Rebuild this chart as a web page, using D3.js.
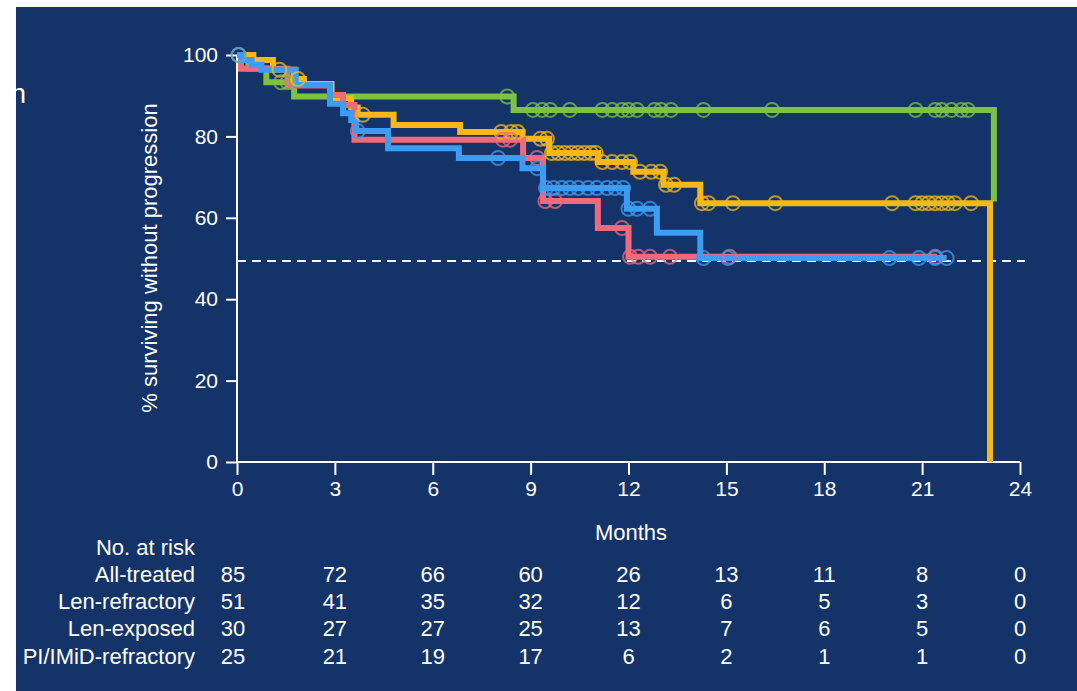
<!DOCTYPE html>
<html>
<head>
<meta charset="utf-8">
<script src="https://cdn.jsdelivr.net/npm/d3@7"></script>
<style>
  html, body { margin: 0; padding: 0; background: #ffffff; }
  svg { display: block; }
  text { font-family: "Liberation Sans", Arial, sans-serif; fill: #ffffff; }
</style>
</head>
<body>
<svg id="chart" width="1077" height="691"></svg>
<script>
// tick values and risk table
const months = [0, 3, 6, 9, 12, 15, 18, 21, 24];
const yTicks = [0, 20, 40, 60, 80, 100];
const riskGroups = ["All-treated", "Len-refractory", "Len-exposed", "PI/IMiD-refractory"];
const riskAllTreated = [85, 72, 66, 60, 26, 13, 11, 8, 0];
const riskLenRefractory = [51, 41, 35, 32, 12, 6, 5, 3, 0];
const riskLenExposed = [30, 27, 27, 25, 13, 7, 6, 5, 0];
const riskPiImid = [25, 21, 19, 17, 6, 2, 1, 1, 0];
const medianLevel = 49.4;

// KM steps: [month, % progression-free]
const stepsLenExposed = [[0, 100], [0.35, 96.7], [0.9, 93.3], [1.75, 89.8], [8.48, 86.5], [23.2, 64]];
const endLenExposed = 23.2;
const censLenExposed = [1.35, 1.55, 8.28, 9.07, 9.35, 9.6, 10.2, 11.2, 11.5, 11.8, 12.0, 12.26, 12.8, 13.0, 13.3,
  14.3, 16.4, 20.8, 21.4, 21.6, 21.9, 22.2, 22.4];

const stepsAllTreated = [[0, 100], [0.5, 98.8], [1.1, 96.4], [1.75, 94.1], [2.05, 92.9], [2.9, 89.4], [3.5, 87.1],
  [3.7, 85.3], [4.8, 82.8], [6.84, 81.1], [8.75, 79.4], [9.57, 75.9], [11.07, 73.7], [12.15, 71.3], [13.07, 68.1],
  [14.2, 63.6], [23.08, 0]];
const endAllTreated = 23.08;
const censAllTreated = [0.05, 1.3, 1.87, 3.86, 8.1, 8.4, 8.6, 9.3, 9.5, 9.65, 9.85, 10.05, 10.25, 10.45, 10.65, 10.85,
  11.0, 11.2, 11.5, 11.8, 12.05, 12.35, 12.7, 12.97, 13.15, 13.4, 14.25, 14.45, 15.2, 16.5, 20.08, 20.8, 21.0, 21.2,
  21.4, 21.6, 21.8, 22.0, 22.5];

const stepsLenRefractory = [[0, 100], [0.12, 96.6], [1.55, 92.5], [2.85, 90.2], [3.25, 87.7], [3.6, 79.2], [8.77, 74.7],
  [9.38, 64.1], [11.06, 57.5], [12.0, 50.4]];
const endLenRefractory = 21.45;
const censLenRefractory = [8.15, 8.37, 9.2, 9.45, 9.75, 11.8, 12.05, 12.3, 12.66, 13.27, 15.1, 21.4];

const stepsPiImid = [[0, 100], [0.15, 98.8], [0.45, 97.6], [0.75, 96.4], [1.8, 92.6], [2.85, 88.0], [3.25, 85.7],
  [3.5, 84.0], [3.65, 81.3], [4.63, 77.1], [6.8, 74.7], [8.75, 72.2], [9.38, 67.3], [11.95, 62.2], [12.87, 56.3],
  [14.2, 50.1]];
const endPiImid = 21.75;
const censPiImid = [0.05, 3.7, 8.0, 9.2, 9.47, 9.7, 9.96, 10.2, 10.46, 10.76, 11.03, 11.34, 11.59, 11.84, 12.0, 12.26,
  12.66, 14.3, 15.05, 20.0, 20.9, 21.4, 21.75];

const svg = d3.select("#chart");
const x = d3.scaleLinear().domain([0, 24]).range([237, 1020]);
const y = d3.scaleLinear().domain([0, 100]).range([462, 55]);

// navy slide background, white strip on top and left
svg.append("rect").attr("x", 16).attr("y", 7).attr("width", 1061).attr("height", 684).attr("fill", "#133369");

// cut-off title letter
svg.append("text").attr("x", 26).attr("y", 103).attr("text-anchor", "end")
  .attr("font-size", 28).text("n");
svg.append("rect").attr("x", 0).attr("y", 0).attr("width", 16).attr("height", 691).attr("fill", "#ffffff");

// axes
const yAxis = svg.append("g").attr("transform", `translate(${x(0)},0)`)
  .call(d3.axisLeft(y).tickValues(yTicks).tickSize(11).tickPadding(8));
const xAxis = svg.append("g").attr("transform", `translate(0,${y(0)})`)
  .call(d3.axisBottom(x).tickValues(months).tickSize(13).tickPadding(6));
[yAxis, xAxis].forEach(g => {
  g.select(".domain").attr("stroke", "#ffffff").attr("stroke-width", 2);
  g.selectAll(".tick line").attr("stroke", "#ffffff").attr("stroke-width", 2);
  g.selectAll(".tick text").attr("fill", "#ffffff").attr("font-size", 21)
    .attr("font-family", "Liberation Sans, Arial, sans-serif");
});
yAxis.select(".domain").attr("d", `M0,${y(100)}V${y(0)}`);
xAxis.select(".domain").attr("d", `M${x(0)},0H${x(24)}`);

svg.append("text").attr("transform", "translate(157,258) rotate(-90)").attr("text-anchor", "middle")
  .attr("font-size", 22).text("% surviving without progression");
svg.append("text").attr("x", 631).attr("y", 540).attr("text-anchor", "middle")
  .attr("font-size", 22).text("Months");

// median reference line
svg.append("line").attr("x1", x(0)).attr("x2", x(24.15)).attr("y1", y(medianLevel)).attr("y2", y(medianLevel))
  .attr("stroke", "#ffffff").attr("stroke-width", 2).attr("stroke-dasharray", "9,6");

// curves
const curves = [
  { steps: stepsLenExposed, end: endLenExposed, cens: censLenExposed, color: "#7dc242" },
  { steps: stepsAllTreated, end: endAllTreated, cens: censAllTreated, color: "#f9b818" },
  { steps: stepsLenRefractory, end: endLenRefractory, cens: censLenRefractory, color: "#ef6b7b" },
  { steps: stepsPiImid, end: endPiImid, cens: censPiImid, color: "#3d9cf3" }
];

const line = d3.line().x(d => x(d[0])).y(d => y(d[1])).curve(d3.curveStepAfter);

// value of the step curve at time t
function levelAt(steps, t) {
  let s = steps[0][1];
  for (const p of steps) if (p[0] <= t) s = p[1];
  return s;
}

curves.forEach(c => {
  const last = c.steps[c.steps.length - 1];
  const pts = last[0] < c.end ? c.steps.concat([[c.end, last[1]]]) : c.steps;
  svg.append("path").attr("d", line(pts)).attr("fill", "none")
    .attr("stroke", c.color).attr("stroke-width", 6);
});

curves.forEach(c => {
  svg.append("g").selectAll("circle").data(c.cens).join("circle")
    .attr("cx", d => x(d)).attr("cy", d => y(levelAt(c.steps, d))).attr("r", 7)
    .attr("fill", "none").attr("stroke", c.color).attr("stroke-width", 2)
    .attr("stroke-opacity", 0.75);
});

// number at risk table
const riskRows = [riskAllTreated, riskLenRefractory, riskLenExposed, riskPiImid];
const rowY = [574, 601, 628, 656];
svg.append("text").attr("x", 195).attr("y", 547).attr("dy", "0.35em").attr("text-anchor", "end")
  .attr("font-size", 22).text("No. at risk");
riskRows.forEach((row, i) => {
  svg.append("text").attr("x", 195).attr("y", rowY[i]).attr("dy", "0.35em").attr("text-anchor", "end")
    .attr("font-size", 22).text(riskGroups[i]);
  svg.append("g").selectAll("text").data(row).join("text")
    .attr("x", (d, j) => x(months[j]) - (j === 0 ? 4 : 0)).attr("y", rowY[i]).attr("dy", "0.35em")
    .attr("text-anchor", "middle").attr("font-size", 22).text(d => d);
});
</script>
</body>
</html>
